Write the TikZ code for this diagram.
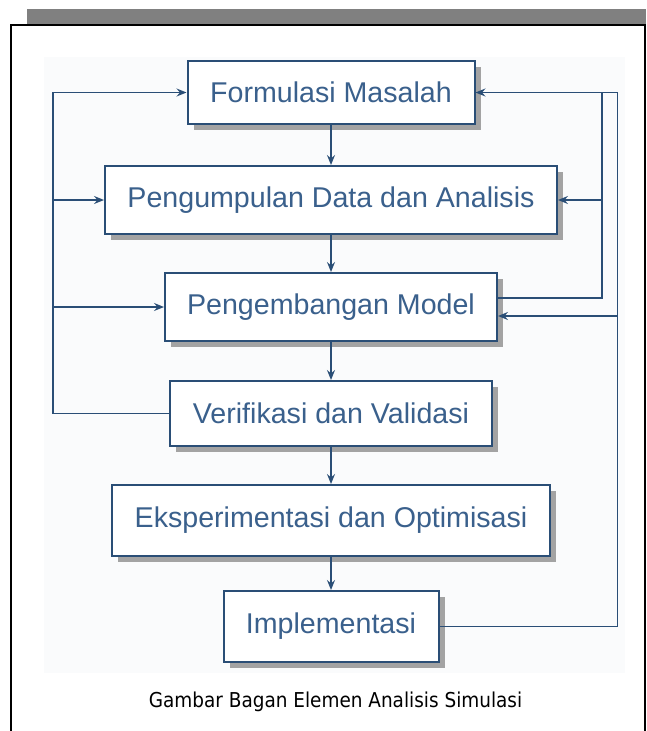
\documentclass[tikz,border=0pt]{standalone}
\usepackage{fontspec}
\setmainfont{Liberation Sans}
\newfontfamily\captionfont{DejaVu Sans}[FakeStretch=0.9]
\usepackage{tikz}
\usetikzlibrary{arrows.meta,shadows}
\definecolor{garis}{RGB}{42,78,118}
\definecolor{teks}{RGB}{58,96,140}
\definecolor{bayang}{RGB}{163,163,163}
\definecolor{latar}{RGB}{250,251,252}
\definecolor{pita}{RGB}{128,128,128}

\begin{document}
\begin{tikzpicture}[x=1pt, y=-1pt, >={Stealth[length=10pt,width=8pt,inset=3.5pt]},
    kotak/.style={draw=garis, line width=2pt, fill=white, text=teks, inner sep=0pt,
        font=\fontsize{28.6}{30}\selectfont,
        drop shadow={shadow xshift=6pt, shadow yshift=-6pt, fill=bayang, opacity=1}},
    alur/.style={draw=garis, line width=1.8pt}]

\useasboundingbox (0,0) rectangle (646,731);

% Bingkai
\fill[pita] (27,9) rectangle (646,24);
\draw[line width=2pt] (10.5,731) -- (10.5,25) -- (644.5,25) -- (644.5,731);
\fill[latar] (44,57) rectangle (625,673);

% Kotak
\node[kotak, minimum width=287pt, minimum height=63pt] (formulasi) at (331,92.5) {Formulasi Masalah};
\node[kotak, minimum width=452pt, minimum height=68pt] (pengumpulan) at (331,200) {Pengumpulan Data dan Analisis};
\node[kotak, minimum width=332pt, minimum height=68pt] (pengembangan) at (331,307) {Pengembangan Model};
\node[kotak, minimum width=322pt, minimum height=65pt] (verifikasi) at (331,413.5) {Verifikasi dan Validasi};
\node[kotak, minimum width=438pt, minimum height=71pt] (eksperimen) at (331,520.5) {Eksperimentasi dan Optimisasi};
\node[kotak, minimum width=215pt, minimum height=71pt] (implementasi) at (331,626.5) {Implementasi};

% Alur utama
\foreach \a/\b in {formulasi/pengumpulan, pengumpulan/pengembangan,
    pengembangan/verifikasi, verifikasi/eksperimen, eksperimen/implementasi}{
    \draw[alur,->] (\a.south) -- (\b.north);
}

% Umpan balik
\coordinate (kiri) at (53,92.5);
\coordinate (kanan1) at (602,92.5);
\coordinate (kanan2) at (617.5,92.5);
\coordinate (keluar) at ([yshift=9pt]pengembangan.east);
\coordinate (masuk) at ([yshift=-9pt]pengembangan.east);

\draw[alur,->] (verifikasi.west) -- (verifikasi.west -| kiri) |- (formulasi.west);
\draw[alur,->] (pengumpulan.west -| kiri) -- (pengumpulan.west);
\draw[alur,->] (pengembangan.west -| kiri) -- (pengembangan.west);

\draw[alur] (keluar) -| (kanan1);
\draw[alur,->] (pengumpulan.east -| kanan1) -- (pengumpulan.east);

\draw[alur,->] (implementasi.east) -| (kanan2) -- (formulasi.east);
\draw[alur,->] (masuk -| kanan2) -- (masuk);

% Keterangan
\node[font=\captionfont\fontsize{20.5}{24}\selectfont] (keterangan) at (335.5,702)
    {Gambar Bagan Elemen Analisis Simulasi};

\end{tikzpicture}
\end{document}
